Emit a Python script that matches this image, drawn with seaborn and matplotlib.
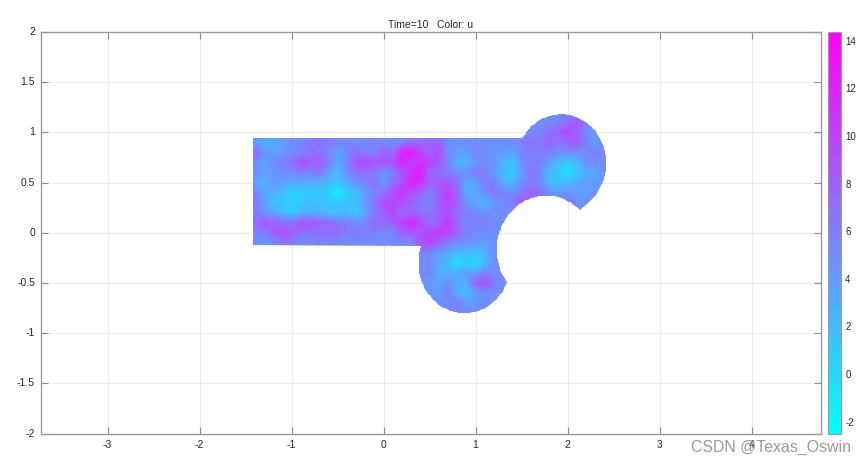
# Field plot, time 10, colour is u
import numpy as np
import pandas as pd
import matplotlib
matplotlib.use("Agg")
import matplotlib.pyplot as plt
from matplotlib.path import Path
from matplotlib.transforms import Affine2D
import seaborn as sns

# %%
# Values, nodes outside the domain just hold 5 (they get clipped)
x_nodes = [-1.5, -1.4, -1.3, -1.2, -1.1, -1.0, -0.9, -0.8, -0.7, -0.6, -0.5, -0.4, -0.3, -0.2, -0.1,
           0.0, 0.1, 0.2, 0.3, 0.4, 0.5, 0.6, 0.7, 0.8, 0.9, 1.0, 1.1, 1.2, 1.3, 1.4,
           1.5, 1.6, 1.7, 1.8, 1.9, 2.0, 2.1, 2.2, 2.3, 2.4, 2.5]
y_nodes = [-0.9, -0.8, -0.7, -0.6, -0.5, -0.4, -0.3, -0.2, -0.1, 0.0, 0.1,
           0.2, 0.3, 0.4, 0.5, 0.6, 0.7, 0.8, 0.9, 1.0, 1.1, 1.2]
u_values = [
    [5] * 41,
    [5] * 41,
    [5] * 21 + [5, 5, 6.5, 4, 4.5, 5] + [5] * 14,
    [5] * 20 + [5, 4, 6, 3, 1.5, 4, 5, 5] + [5] * 13,
    [5] * 19 + [5, 4, 3.5, 5, 3, 3, 8, 9, 6, 5] + [5] * 12,
    [5] * 19 + [5, 6, 3, 3, 3, 4, 4, 6, 5, 5] + [5] * 12,
    [5] * 19 + [5, 5, 3, 2, -1, 1, -0.5, 2, 5, 5] + [5] * 12,
    [5] * 19 + [6, 5, 4, 3, 2, 2, 1.5, 2.5, 5, 5] + [5] * 12,
    [5, 5, 4, 5, 6.5, 6, 5, 5, 6, 5.5, 5, 4.5, 5.5, 5, 5,
     5, 5, 5, 5, 9, 10, 8, 6, 5, 4.5, 4.5, 4, 5, 5] + [5] * 12,
    [5, 6, 6, 8, 9.5, 8, 7, 6.5, 7, 7, 7.5, 6, 6.5, 5.5, 6,
     5, 5.5, 8, 8.5, 9, 10, 11, 10, 7.5, 6, 5, 5, 5, 5] + [5] * 12,
    [5, 7, 9, 8, 7, 7, 9, 9, 8, 7.5, 6.5, 6, 5, 5.5, 7.5,
     7, 8, 10, 12, 9.5, 7, 8, 11, 8, 5, 6, 6, 5, 5] + [5] * 12,
    [5, 6, 4.5, 3.5, 2.5, 1, 2.5, 3, 3, 2, 2, 2.5, 1, 3.5, 6,
     8, 10, 7, 8, 7, 7, 8, 9, 7, 6, 5.5, 4.5, 5, 5] + [5] * 12,
    [5, 6.5, 4, 1.5, 1.5, 0.5, 1, 2, 1.5, 1.5, 1, 2, 2, 4, 6.5,
     9.5, 10, 9, 8, 6, 5.5, 8, 10, 8, 4.5, 3.5, 2, 4, 5,
     6, 9, 7, 5, 5, 5, 6, 5, 5, 5, 5, 5],
    [5, 6, 3.5, 3, 1.5, 0.5, 0.5, 1, 1, 0.5, -2, 0.5, 1.5, 4, 5.5,
     7, 9, 11, 9, 8, 6, 8, 10.5, 7.5, 3, 3, 5, 6.5, 6,
     5, 6, 8, 7, 5, 4, 5, 4, 3.5, 5, 5, 5],
    [5, 3.5, 2.5, 4, 4, 3, 3.5, 3, 2.5, 2.5, 1.5, 3, 5, 5.5, 7,
     4, 7, 9, 12.5, 11, 8, 8.5, 9, 7, 3, 4, 6, 6, 3,
     2.5, 5, 6, 5.5, 2.5, 2, 2, 3, 4, 4, 5, 5],
    [5, 5, 4, 4, 5, 5, 6, 5.5, 6.5, 4, 1.5, 5, 6.5, 7, 6.5,
     4, 6, 8.5, 11, 13, 7.5, 7, 6, 5, 5, 6.5, 6, 4, 2,
     1, 4, 6.5, 5, 2, 1, -0.5, 1, 3, 3.5, 4.5, 5],
    [5, 5, 3.5, 5, 6, 7, 9.5, 8, 8, 6, 3.5, 5, 9, 10, 9,
     9, 9, 12, 10, 11, 10, 9, 5.5, 2.5, 2.5, 4.5, 5, 5, 2.5,
     1.5, 5, 6, 6, 4, 2, 1, 2, 5, 5, 5, 5],
    [5, 7.5, 5, 4, 4, 5, 5.5, 7, 6.5, 5.5, 3.5, 5, 7, 6, 5.5,
     8, 7, 12, 13, 10, 8, 9.5, 5, 4, 4, 5.5, 5, 4, 4,
     3.5, 5.5, 6, 6, 6, 5, 5, 5, 5, 6, 5, 5],
    [5, 4, 2.5, 2.5, 4, 5, 5.5, 6, 7, 6, 6, 5.5, 5, 5.5, 6,
     5, 5, 6, 7.5, 7.5, 8, 8, 5, 4.5, 5, 5, 5, 5, 5,
     5, 6, 7, 6, 8, 6, 7.5, 9, 6, 3.5, 5, 5],
    [5] * 31 + [5, 6, 7, 8, 10, 7.5, 5.5, 4, 5, 5],
    [5] * 34 + [6, 7.5, 9, 6, 5, 5, 5],
    [5] * 41,
]
x_ticks = [-3, -2, -1, 0, 1, 2, 3, 4]
y_ticks = [-2, -1.5, -1, -0.5, 0, 0.5, 1, 1.5, 2]
y_tick_labels = ["-2", "-1.5", "-1", "-0.5", "0", "0.5", "1", "1.5", "2"]
cbar_ticks = [-2, 0, 2, 4, 6, 8, 10, 12, 14]
u_min, u_max = -2.5, 14.37

# %%
def arc(cx, cy, r, start, stop, n=80):
    '''
    Points on a circular arc, angles in degrees
    '''
    t = np.radians(np.linspace(start, stop, n))
    return np.column_stack([cx + r * np.cos(t), cy + r * np.sin(t)])

def domain_path():
    '''
    Outline of the domain: block on the left, two discs, one round cut
    '''
    left, right_top, bottom, top = -1.42, 1.51, -0.125, 0.94
    pts = [
        [[left, bottom], [left, top], [right_top, top]],
        arc(1.93, 0.69, 0.49, 149, -52),
        arc(1.77, -0.17, 0.54, 48, 217),
        arc(0.88, -0.30, 0.50, -23, -200),
        [[left, bottom]],
    ]
    return Path(np.vstack(pts))

# %%
sns.set_theme(style="whitegrid")
plt.rcParams['font.family'] = ['Liberation Sans', 'DejaVu Sans']
plt.rcParams['axes.unicode_minus'] = False

W, H = 865, 465
fig = plt.figure(figsize=(W / 100, H / 100), dpi=100, facecolor="white")
ax = fig.add_axes([40.5 / W, 1 - 433.5 / H, 780 / W, 401.5 / H])
cax = fig.add_axes([827.5 / W, 1 - 433.5 / H, 13.5 / W, 401.5 / H])

field = pd.DataFrame(u_values, index=y_nodes, columns=x_nodes)
sns.heatmap(field, ax=ax, cbar_ax=cax, cmap="cool", vmin=u_min, vmax=u_max, shading="gouraud")

# heatmap works in cell numbers, move the mesh to the real x and y
mesh = ax.collections[0]
dx = (x_nodes[-1] - x_nodes[0]) / (len(x_nodes) - 1)
dy = (y_nodes[-1] - y_nodes[0]) / (len(y_nodes) - 1)
mesh.set_transform(Affine2D().scale(dx, dy).translate(x_nodes[0], y_nodes[0]) + ax.transData)
mesh.set_clip_path(domain_path(), transform=ax.transData)

ax.set_xlim(-3.73, 4.75)
ax.set_ylim(-2, 2)
ax.set_xticks(x_ticks)
ax.set_xticklabels([str(v) for v in x_ticks], rotation=0)
ax.set_yticks(y_ticks)
ax.set_yticklabels(y_tick_labels, rotation=0)
ax.set_xlabel("")
ax.set_ylabel("")
ax.set_axisbelow(True)
ax.grid(True, color="#ececec", linewidth=0.8)
ax.tick_params(which="both", direction="in", length=5, width=0.8, color="#8c8c8c",
               top=True, right=True, bottom=True, left=True, labelsize=7.5, labelcolor="#262626", pad=4)
ax.tick_params(axis="x", pad=5)
for spine in ax.spines.values():
    spine.set_visible(True)
    spine.set_color("#9a9a9a")
    spine.set_linewidth(1.0)
ax.set_title("Time=10   Color: u", fontsize=7.5, color="#262626", pad=3)

cb = mesh.colorbar
cb.set_ticks(cbar_ticks)
cb.outline.set_visible(True)
cb.outline.set_linewidth(0.8)
cb.outline.set_edgecolor("#9a9a9a")
cax.tick_params(direction="in", length=4, width=0.7, color="#707070", labelsize=7, labelcolor="#262626",
                right=True, left=False, pad=3)

fig.text(851 / W, 1 - 447 / H, "CSDN @Texas_Oswin", ha="right", va="center", fontsize=11.4, color="#999999")

fig.savefig("out.png", dpi=100)
